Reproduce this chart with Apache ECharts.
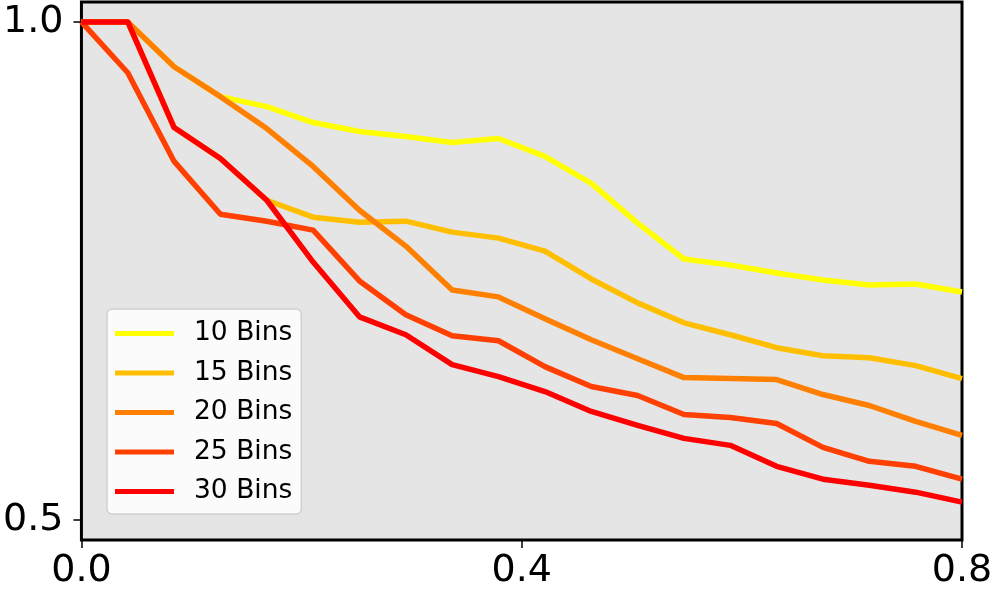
<!DOCTYPE html>
<html>
<head>
<meta charset="utf-8">
<script src="https://cdn.jsdelivr.net/npm/echarts@6/dist/echarts.min.js"></script>
<style>
html,body{margin:0;padding:0;background:#fff;}
#chart{width:996px;height:596px;}
</style>
</head>
<body>
<div id="chart"></div>
<script>
var xValues = [0, 0.0421, 0.0842, 0.1263, 0.1684, 0.2105, 0.2526, 0.2947, 0.3368, 0.3789, 0.4211, 0.4632, 0.5053, 0.5474, 0.5895, 0.6316, 0.6737, 0.7158, 0.7579, 0.8];
var seriesNames = ['10 Bins', '15 Bins', '20 Bins', '25 Bins', '30 Bins'];
var seriesColors = ['#ffff00', '#ffbf00', '#ff8000', '#ff4000', '#ff0000'];
var bins10 = [1.000,1.000,0.955,0.925,0.915,0.899,0.890,0.885,0.879,0.883,0.865,0.838,0.798,0.762,0.756,0.748,0.741,0.736,0.737,0.729];
var bins15 = [1.000,1.000,0.894,0.863,0.821,0.804,0.799,0.800,0.789,0.783,0.770,0.742,0.718,0.698,0.686,0.673,0.665,0.663,0.655,0.642];
var bins20 = [1.000,1.000,0.955,0.925,0.893,0.855,0.811,0.775,0.731,0.724,0.702,0.681,0.662,0.643,0.642,0.641,0.626,0.615,0.599,0.585];
var bins25 = [1.000,0.949,0.860,0.807,0.800,0.791,0.740,0.706,0.685,0.680,0.654,0.634,0.625,0.606,0.603,0.597,0.573,0.559,0.554,0.541];
var bins30 = [1.000,1.000,0.894,0.863,0.821,0.759,0.704,0.686,0.656,0.644,0.629,0.609,0.595,0.582,0.575,0.554,0.541,0.535,0.528,0.518];
var xTicks = [0.0, 0.4, 0.8];
var yTicks = [0.5, 1.0];

var allSeries = [bins10, bins15, bins20, bins25, bins30];
var FONT = 'DejaVu Sans';

function pairs(vals) {
  return vals.map(function (v, i) { return [xValues[i], v]; });
}

var chart = echarts.init(document.getElementById('chart'), null, {renderer: 'canvas'});
chart.setOption({
  animation: false,
  backgroundColor: '#ffffff',
  grid: {
    left: 81, right: 34, top: 2, bottom: 56,
    show: true, backgroundColor: '#e5e5e5',
    borderColor: '#000000', borderWidth: 3
  },
  legend: {
    orient: 'vertical',
    left: 107, top: 309,
    padding: [11, 9, 9, 8],
    backgroundColor: 'rgba(252,252,252,0.95)',
    borderColor: '#d0d0d0', borderWidth: 1.5, borderRadius: 5,
    icon: 'rect',
    itemWidth: 59, itemHeight: 5,
    itemGap: 12.5,
    data: seriesNames,
    textStyle: {fontFamily: FONT, fontSize: 26.5, color: '#000', padding: [0, 0, 0, 15], lineHeight: 27}
  },
  xAxis: {
    type: 'value', min: 0, max: 0.8, interval: 0.4,
    axisLine: {show: false},
    axisTick: {show: true, length: 8, lineStyle: {color: '#000', width: 1.5}, customValues: xTicks},
    axisLabel: {
      customValues: xTicks,
      fontFamily: FONT, fontSize: 38, color: '#000', margin: 12,
      formatter: function (v) { return v.toFixed(1); }
    },
    splitLine: {show: false}
  },
  yAxis: {
    type: 'value', min: 0.48, max: 1.02,
    axisLine: {show: false},
    axisTick: {show: true, length: 8, lineStyle: {color: '#000', width: 1.5}, customValues: yTicks},
    axisLabel: {
      customValues: yTicks,
      fontFamily: FONT, fontSize: 38, color: '#000', margin: 18,
      formatter: function (v) { return v.toFixed(1); }
    },
    splitLine: {show: false}
  },
  series: allSeries.map(function (vals, k) {
    return {
      name: seriesNames[k],
      type: 'line',
      data: pairs(vals),
      symbol: 'none',
      color: seriesColors[k],
      lineStyle: {color: seriesColors[k], width: 5.5, join: 'round', cap: 'butt'},
      z: 2 + k
    };
  })
});
</script>
</body>
</html>
